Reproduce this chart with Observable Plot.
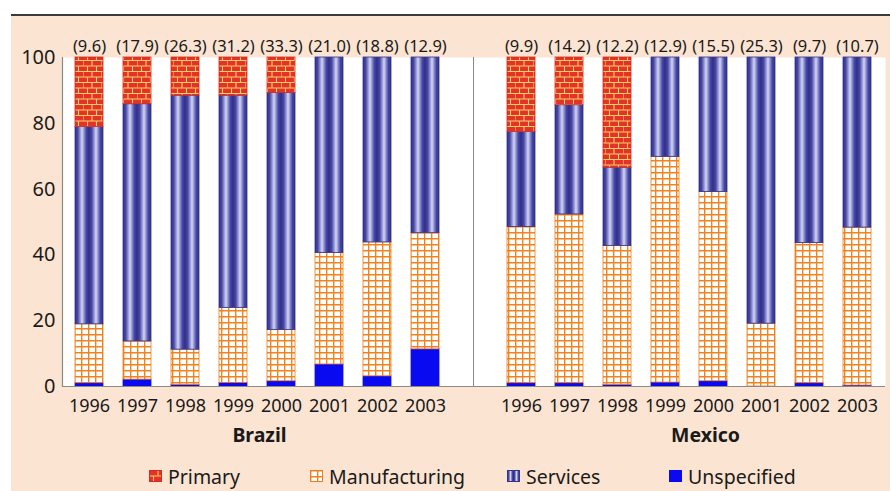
<!DOCTYPE html>
<html>
<head>
<meta charset="utf-8">
<script src="https://cdn.jsdelivr.net/npm/d3@7"></script>
<script src="https://cdn.jsdelivr.net/npm/@observablehq/plot@0.6"></script>
<style>
  html, body { margin: 0; padding: 0; background: #ffffff; width: 890px; height: 491px; overflow: hidden; font-family: "Noto Sans", sans-serif; }
  #panel { position: absolute; left: 11px; top: 14px; width: 879px; height: 477px; border-top: 2px solid #3a3a3a; background: #fbe4d2; }
  #chart { position: absolute; left: 0; top: 0; }
  #legend { position: absolute; left: 0; top: 0; width: 890px; height: 491px; pointer-events: none; }
  .item { position: absolute; top: 463px; display: flex; align-items: center; font-size: 19.5px; color: #1a1a1a; height: 26px; }
  .item svg { margin-right: 6px; }
  .item:nth-child(1) { left: 149px; }
  .item:nth-child(2) { left: 310px; }
  .item:nth-child(3) { left: 507px; }
  .item:nth-child(4) { left: 669px; }
</style>
</head>
<body>
<svg width="0" height="0" style="position:absolute">
  <defs>
    <pattern id="brick" patternUnits="userSpaceOnUse" width="18" height="11">
      <rect width="18" height="11" fill="#e2322a"/>
      <path d="M0 0.5H18 M0 6H18 M0 0.5V6 M9 0.5V6 M4.5 6V11 M13.5 6V11" stroke="#f6d160" stroke-width="1.1" fill="none"/>
    </pattern>
    <pattern id="grid" patternUnits="userSpaceOnUse" width="7" height="6">
      <rect width="7" height="6" fill="#ffffff"/>
      <path d="M0 0.7H7 M0.7 0V6" stroke="#f0831f" stroke-width="1.4" fill="none"/>
    </pattern>
    <linearGradient id="stripes" x1="0" x2="0.5" y1="0" y2="0" spreadMethod="repeat">
      <stop offset="0" stop-color="#30308a"/>
      <stop offset="0.2" stop-color="#4848a6"/>
      <stop offset="0.5" stop-color="#d2d6f6"/>
      <stop offset="0.8" stop-color="#4848a6"/>
      <stop offset="1" stop-color="#30308a"/>
    </linearGradient>
  </defs>
</svg>
<div id="panel"><div id="chart"></div></div>
<div id="legend"></div>
<script>
const countries = ["Brazil", "Mexico"];
const years = ["1996", "1997", "1998", "1999", "2000", "2001", "2002", "2003"];
const sectors = ["Unspecified", "Manufacturing", "Services", "Primary"];
const legendOrder = ["Primary", "Manufacturing", "Services", "Unspecified"];

const brazilTotals = ["(9.6)", "(17.9)", "(26.3)", "(31.2)", "(33.3)", "(21.0)", "(18.8)", "(12.9)"];
const mexicoTotals = ["(9.9)", "(14.2)", "(12.2)", "(12.9)", "(15.5)", "(25.3)", "(9.7)", "(10.7)"];

const brazilUnspecified   = [1.0, 2.1, 0.5, 1.1, 1.6, 6.7, 3.1, 11.3];
const brazilManufacturing = [17.9, 11.6, 10.7, 22.8, 15.6, 33.9, 40.7, 35.3];
const brazilServices      = [60.0, 72.1, 77.2, 64.5, 72.0, 59.4, 56.2, 53.4];
const brazilPrimary       = [21.1, 14.2, 11.6, 11.6, 10.8, 0, 0, 0];

const mexicoUnspecified   = [1.0, 1.0, 0.5, 1.2, 1.6, 0, 1.0, 0.3];
const mexicoManufacturing = [47.5, 51.3, 42.2, 68.6, 57.5, 19.1, 42.6, 48.0];
const mexicoServices      = [28.9, 33.2, 23.8, 30.2, 40.9, 80.9, 56.4, 51.7];
const mexicoPrimary       = [22.6, 14.5, 33.5, 0, 0, 0, 0, 0];

const seriesByCountry = {
  Brazil: {Unspecified: brazilUnspecified, Manufacturing: brazilManufacturing, Services: brazilServices, Primary: brazilPrimary, totals: brazilTotals},
  Mexico: {Unspecified: mexicoUnspecified, Manufacturing: mexicoManufacturing, Services: mexicoServices, Primary: mexicoPrimary, totals: mexicoTotals}
};

const fills = {Primary: "url(#brick)", Manufacturing: "url(#grid)", Services: "url(#stripes)", Unspecified: "#0a0af0"};
const strokes = {Primary: "#d62a22", Manufacturing: "#ee7d1c", Services: "#34348c", Unspecified: "#0a0af0"};

const GAP = "gap";
const key = (c, y) => `${c} ${y}`;
const xDomain = [...years.map(y => key("Brazil", y)), GAP, ...years.map(y => key("Mexico", y))];

const rows = [];
const totals = [];
for (const c of countries) {
  years.forEach((y, i) => {
    for (const s of sectors) rows.push({key: key(c, y), sector: s, value: seriesByCountry[c][s][i]});
    totals.push({key: key(c, y), label: seriesByCountry[c].totals[i]});
  });
}

const ink = "#1a1a1a";
const chart = Plot.plot({
  width: 879,
  height: 440,
  marginLeft: 51,
  marginRight: 5,
  marginTop: 41,
  marginBottom: 70,
  style: {fontFamily: "Noto Sans", color: ink, background: "transparent", overflow: "visible"},
  x: {domain: xDomain, paddingInner: 0.415, paddingOuter: 0.149, axis: null},
  y: {domain: [0, 100], axis: null},
  color: {type: "ordinal", domain: sectors, range: sectors.map(s => fills[s])},
  marks: [
    Plot.frame({fill: "white", stroke: "none"}),
    Plot.barY(rows, {x: "key", y: "value", fill: "sector", stroke: d => strokes[d.sector], strokeWidth: 0.8}),
    Plot.ruleX([GAP], {stroke: "#8a8a8a", strokeWidth: 1}),
    Plot.ruleY([0], {stroke: "#8a8a8a", strokeWidth: 1.2}),
    Plot.frame({anchor: "left", stroke: "#8a8a8a", strokeWidth: 1.2}),
    Plot.axisY({ticks: [0, 20, 40, 60, 80, 100], tickSize: 0, tickPadding: 7, fontSize: 20, label: null}),
    Plot.axisX({tickSize: 0, tickPadding: 13, fontSize: 18, label: null, tickFormat: d => d === GAP ? "" : d.split(" ")[1]}),
    Plot.text(totals, {x: "key", y: () => 100, text: "label", lineAnchor: "bottom", dy: -6, fontSize: 16.5, fill: ink}),
    Plot.text([countries[0]], {x: () => key("Brazil", "1999"), text: d => d, frameAnchor: "bottom", dy: 55, dx: 26, fontSize: 19.5, fontWeight: "bold", fill: ink}),
    Plot.text([countries[1]], {x: () => key("Mexico", "1999"), text: d => d, frameAnchor: "bottom", dy: 55, dx: 40, fontSize: 19.5, fontWeight: "bold", fill: ink})
  ]
});
document.getElementById("chart").appendChild(chart);

const legend = d3.select("#legend");
for (const s of legendOrder) {
  const item = legend.append("div").attr("class", "item");
  const sw = item.append("svg").attr("width", 13).attr("height", 12);
  sw.append("rect").attr("x", 0.5).attr("y", 0.5).attr("width", 12).attr("height", 11)
    .attr("fill", fills[s]).attr("stroke", strokes[s]).attr("stroke-width", 1);
  item.append("span").text(s);
}
</script>
</body>
</html>
